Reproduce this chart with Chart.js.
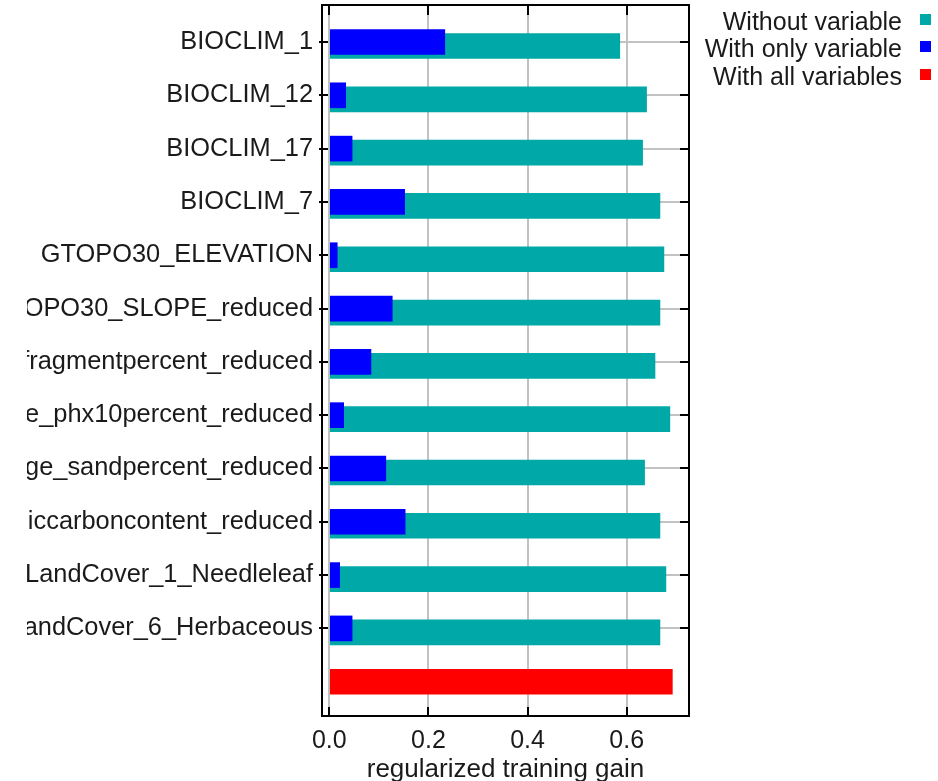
<!DOCTYPE html>
<html>
<head>
<meta charset="utf-8">
<title>Jackknife of regularized training gain</title>
<script src="https://cdn.jsdelivr.net/npm/chart.js@4/dist/chart.umd.min.js"></script>
<style>
  html, body { margin: 0; padding: 0; background: #fff; }
  body { width: 938px; height: 781px; position: relative; overflow: hidden;
         font-family: "Liberation Sans", Arial, Helvetica, sans-serif; }
  #wrap { position: absolute; left: 27px; top: 0; width: 911px; height: 781px; }
  #legend { position: absolute; right: 7px; top: 8px; }
  #legend .row { position: relative; height: 27.3px; line-height: 27px; font-size: 25px;
                 color: #1a1a1a; text-align: right; padding-right: 29px; white-space: nowrap; }
  #legend .box { position: absolute; right: 0; top: 6px; width: 11px; height: 11px; }
</style>
</head>
<body>
<div id="wrap"><canvas id="chart" width="911" height="781"></canvas></div>
<div id="legend"></div>
<script>
// Environmental variables tested in the jackknife
const variables = [
  'BIOCLIM_1',
  'BIOCLIM_12',
  'BIOCLIM_17',
  'BIOCLIM_7',
  'GTOPO30_ELEVATION',
  'GTOPO30_SLOPE_reduced',
  'ISRICSOILGRIDS_new_average_coarsefragmentpercent_reduced',
  'ISRICSOILGRIDS_new_average_phx10percent_reduced',
  'ISRICSOILGRIDS_new_average_sandpercent_reduced',
  'ISRICSOILGRIDS_new_average_soilorganiccarboncontent_reduced',
  'LandCover_1_Needleleaf',
  'LandCover_6_Herbaceous'
];

// Regularized training gain of the model built without each variable
const gainWithout = [0.586, 0.640, 0.632, 0.667, 0.675, 0.667, 0.657, 0.687, 0.636, 0.667, 0.679, 0.667];
// Regularized training gain of the model built with only that variable
const gainOnly = [0.233, 0.033, 0.046, 0.152, 0.016, 0.127, 0.084, 0.029, 0.114, 0.153, 0.021, 0.046];
// Regularized training gain of the full model
const gainAll = 0.692;

const xTicks = [0.0, 0.2, 0.4, 0.6];
const seriesNames = ['Without variable', 'With only variable', 'With all variables'];
const seriesColors = ['rgb(0,168,168)', 'rgb(0,0,255)', 'rgb(255,0,0)'];

const FAMILY = '"Liberation Sans", Arial, Helvetica, sans-serif';
const FONT = { family: FAMILY, size: 25 };
const LABEL_FONT = { family: FAMILY, size: 25.4 };
const TITLE_FONT = { family: FAMILY, size: 26 };
const TEXT = '#1a1a1a';
const GRID = '#c2c2c2';

// Row positions: one row per variable, the full model in the last row
const rows = variables.map((_, i) => i);
const allRow = variables.length;

// Boxed frame with inward tick marks
const framePlugin = {
  id: 'frame',
  afterDraw(chart) {
    const { ctx, chartArea: a, scales } = chart;
    ctx.save();
    ctx.strokeStyle = '#000';
    ctx.lineWidth = 2;
    ctx.strokeRect(a.left, a.top, a.right - a.left, a.bottom - a.top);
    ctx.beginPath();
    scales.x.ticks.forEach(t => {
      const px = Math.round(scales.x.getPixelForValue(t.value));
      ctx.moveTo(px, a.bottom); ctx.lineTo(px, a.bottom - 9);
      ctx.moveTo(px, a.top); ctx.lineTo(px, a.top + 10);
    });
    scales.y.ticks.forEach(t => {
      const py = Math.round(scales.y.getPixelForValue(t.value));
      ctx.moveTo(a.left - 3, py); ctx.lineTo(a.left + 6, py);
      ctx.moveTo(a.right - 9, py); ctx.lineTo(a.right, py);
    });
    ctx.stroke();
    ctx.restore();
  }
};

// Keep the plot area fixed: no extra room reserved for edge labels
const noEdgePadding = s => {
  s.paddingTop = 0; s.paddingBottom = 0; s.paddingLeft = 0; s.paddingRight = 0;
};

const chart = new Chart(document.getElementById('chart'), {
  type: 'bar',
  data: {
    datasets: [
      {
        label: seriesNames[0],
        data: gainWithout.map((v, i) => ({ x: v, y: rows[i] })),
        backgroundColor: seriesColors[0],
        yAxisID: 'yShift',
        order: 2
      },
      {
        label: seriesNames[1],
        data: gainOnly.map((v, i) => ({ x: v, y: rows[i] })),
        backgroundColor: seriesColors[1],
        yAxisID: 'y',
        order: 1
      },
      {
        label: seriesNames[2],
        data: [{ x: gainAll, y: allRow }],
        backgroundColor: seriesColors[2],
        yAxisID: 'y',
        order: 0
      }
    ]
  },
  options: {
    indexAxis: 'y',
    responsive: false,
    animation: false,
    devicePixelRatio: 1,
    datasets: { bar: { grouped: false, barThickness: 25, borderWidth: 0 } },
    layout: { padding: { left: 0, right: 249, top: 5, bottom: 0 } },
    plugins: { legend: { display: false }, tooltip: { enabled: false } },
    scales: {
      x: {
        type: 'linear',
        position: 'bottom',
        offset: false,
        min: -0.0147,
        max: 0.7256,
        afterBuildTicks: s => { s.ticks = xTicks.map(v => ({ value: v })); },
        afterFit: s => { s.height = 65; noEdgePadding(s); },
        grid: { color: GRID, lineWidth: 2, drawTicks: false, offset: false },
        border: { display: false },
        ticks: {
          font: FONT, color: TEXT, padding: 10, maxRotation: 0,
          callback: v => Number(v).toFixed(1)
        },
        title: {
          display: true, text: 'regularized training gain',
          font: TITLE_FONT, color: TEXT, padding: { top: 0, bottom: -4 }
        }
      },
      y: {
        type: 'linear',
        position: 'left',
        reverse: true,
        offset: false,
        min: -0.694,
        max: 12.643,
        afterBuildTicks: s => { s.ticks = rows.map(v => ({ value: v })); },
        afterFit: s => { s.width = 295; noEdgePadding(s); },
        grid: { color: GRID, lineWidth: 2, drawTicks: false, offset: false },
        border: { display: false },
        ticks: {
          font: LABEL_FONT, color: TEXT, padding: 9, autoSkip: false,
          callback: v => variables[v] ?? ''
        }
      },
      yShift: {
        type: 'linear',
        display: false,
        reverse: true,
        offset: false,
        min: -0.769,
        max: 12.568
      }
    }
  },
  plugins: [framePlugin]
});

// Legend: label text followed by a colour square, right aligned
const legend = document.getElementById('legend');
chart.data.datasets.forEach(ds => {
  const row = document.createElement('div');
  row.className = 'row';
  row.textContent = ds.label;
  const box = document.createElement('span');
  box.className = 'box';
  box.style.background = ds.backgroundColor;
  row.appendChild(box);
  legend.appendChild(row);
});
</script>
</body>
</html>
